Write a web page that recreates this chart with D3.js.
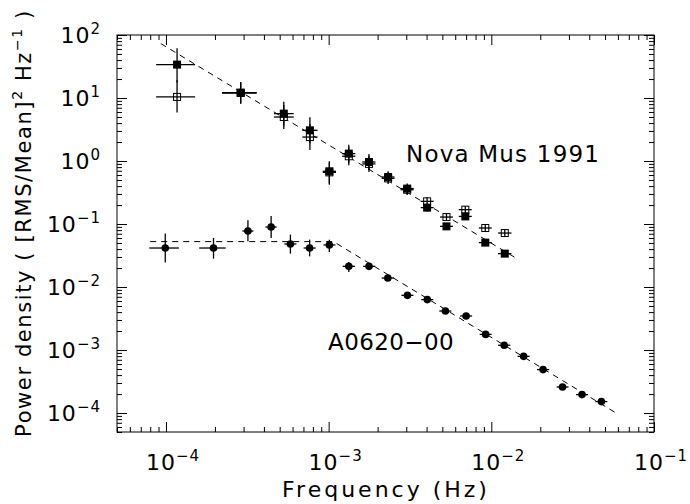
<!DOCTYPE html>
<html>
<head>
<meta charset="utf-8">
<script src="https://cdn.jsdelivr.net/npm/d3@7"></script>
<style>
body { margin: 0; background: #fff; }
text { font-family: "DejaVu Sans", sans-serif; fill: #000; }
</style>
</head>
<body>
<svg width="690" height="504"></svg>
<script>
// Nova Mus 1991 (filled + open squares share the frequency bins)
var novaFreq   = [1.17e-4, 2.88e-4, 5.30e-4, 7.67e-4, 1.01e-3, 1.33e-3, 1.77e-3, 2.32e-3, 3.04e-3, 4.03e-3, 5.30e-3, 6.92e-3, 9.18e-3, 1.21e-2];
var novaFreqLo = [8.7e-5, 2.21e-4, 4.61e-4, 6.89e-4, 0.92e-3, 1.21e-3, 1.61e-3, 2.12e-3, 2.77e-3, 3.68e-3, 4.84e-3, 6.31e-3, 8.38e-3, 1.10e-2];
var novaFreqHi = [1.51e-4, 3.61e-4, 6.10e-4, 8.54e-4, 1.11e-3, 1.46e-3, 1.94e-3, 2.54e-3, 3.33e-3, 4.42e-3, 5.81e-3, 7.58e-3, 1.006e-2, 1.33e-2];
var novaFilled   = [33.9, 12.2, 5.65, 3.07, 0.687, 1.31, 0.964, 0.557, 0.365, 0.182, 0.0918, 0.132, 0.0507, 0.0339];
var novaFilledLo = [17.7, 8.2, 3.65, 1.91, 0.44, 0.94, 0.72, 0.45, 0.30, 0.157, 0.081, 0.116, 0.045, 0.0305];
var novaFilledHi = [61.5, 17.9, 8.74, 4.94, 0.99, 1.82, 1.29, 0.69, 0.44, 0.211, 0.104, 0.150, 0.0564, 0.0377];
var novaOpen   = [10.4, 12.0, 4.99, 2.40, 0.66, 1.19, 0.90, 0.53, 0.35, 0.229, 0.129, 0.169, 0.0865, 0.0719];
var novaOpenLo = [5.9, 8.1, 3.23, 1.50, 0.42, 0.86, 0.67, 0.43, 0.29, 0.198, 0.113, 0.148, 0.0776, 0.0645];
var novaOpenHi = [19.1, 17.6, 7.72, 3.85, 0.95, 1.65, 1.21, 0.66, 0.42, 0.265, 0.147, 0.193, 0.0964, 0.0801];

// A0620-00
var aFreq   = [0.99e-4, 1.96e-4, 3.19e-4, 4.43e-4, 5.82e-4, 7.64e-4, 1.01e-3, 1.33e-3, 1.77e-3, 2.31e-3, 3.05e-3, 4.04e-3, 5.22e-3, 7.0e-3, 9.23e-3, 1.20e-2, 1.58e-2, 2.08e-2, 2.74e-2, 3.61e-2, 4.75e-2];
var aFreqLo = [7.9e-5, 1.60e-4, 2.95e-4, 4.09e-4, 5.34e-4, 7.02e-4, 0.93e-3, 1.22e-3, 1.63e-3, 2.12e-3, 2.80e-3, 3.71e-3, 4.79e-3, 6.43e-3, 8.48e-3, 1.10e-2, 1.45e-2, 1.91e-2, 2.52e-2, 3.32e-2, 4.36e-2];
var aFreqHi = [1.20e-4, 2.33e-4, 3.45e-4, 4.79e-4, 6.34e-4, 8.32e-4, 1.10e-3, 1.45e-3, 1.93e-3, 2.52e-3, 3.32e-3, 4.40e-3, 5.68e-3, 7.62e-3, 1.005e-2, 1.31e-2, 1.72e-2, 2.27e-2, 2.98e-2, 3.93e-2, 5.17e-2];
var aPow   = [0.0416, 0.0416, 0.0774, 0.0896, 0.0482, 0.0416, 0.0465, 0.0213, 0.0213, 0.0139, 0.00738, 0.00631, 0.00416, 0.00347, 0.00177, 0.00119, 0.000794, 0.000489, 0.000259, 0.000196, 0.000152];
var aPowLo = [0.0244, 0.0282, 0.0531, 0.060, 0.0339, 0.0307, 0.036, 0.0173, 0.0191, 0.0125, 0.0068, 0.00586, 0.00387, 0.00322, 0.00165, 0.00111, 0.000738, 0.000454, 0.000241, 0.000182, 0.000141];
var aPowHi = [0.0705, 0.060, 0.1146, 0.134, 0.068, 0.0565, 0.0565, 0.0249, 0.0238, 0.0155, 0.0080, 0.00679, 0.00448, 0.00373, 0.00190, 0.00128, 0.000854, 0.000526, 0.000279, 0.000211, 0.000164];

// model fits (dashed)
var novaModelFreq = [9.3e-5, 1.47e-2];
var novaModelPow  = [73, 0.0272];
var aModelFreq = [8.0e-5, 1.07e-3, 5.85e-2];
var aModelPow  = [0.0526, 0.0526, 1.0e-4];

var xTickExp = [-4, -3, -2, -1];
var yTickExp = [2, 1, 0, -1, -2, -3, -4];

var svg = d3.select("svg");
var x = d3.scaleLog().domain([5e-5, 0.1]).range([117, 654]);
var y = d3.scaleLog().domain([5e-5, 100]).range([432, 35]);

function isMajor(v) {
    var l = Math.log10(v);
    return Math.abs(l - Math.round(l)) < 1e-6;
}
var xMinor = x.ticks().filter(function(d) { return !isMajor(d); });
var yMinor = y.ticks().filter(function(d) { return !isMajor(d); });
var xMajor = xTickExp.map(function(e) { return Math.pow(10, e); });
var yMajor = yTickExp.map(function(e) { return Math.pow(10, e); });

function tickAxis(axis, vals, size, tr) {
    var g = svg.append("g").attr("transform", tr)
        .call(axis.tickValues(vals).tickSize(size).tickFormat(""));
    g.select(".domain").remove();
    g.selectAll("line").attr("stroke", "#000").attr("stroke-width", 1);
}
tickAxis(d3.axisBottom(x), xMinor, -5, "translate(0,432)");
tickAxis(d3.axisBottom(x), xMajor, -10, "translate(0,432)");
tickAxis(d3.axisTop(x), xMinor, -5, "translate(0,35)");
tickAxis(d3.axisTop(x), xMajor, -10, "translate(0,35)");
tickAxis(d3.axisLeft(y), yMinor, -5, "translate(117,0)");
tickAxis(d3.axisLeft(y), yMajor, -10, "translate(117,0)");
tickAxis(d3.axisRight(y), yMinor, -5, "translate(654,0)");
tickAxis(d3.axisRight(y), yMajor, -10, "translate(654,0)");

svg.append("rect")
    .attr("x", 117).attr("y", 35)
    .attr("width", 654 - 117).attr("height", 432 - 35)
    .attr("fill", "none").attr("stroke", "#000").attr("stroke-width", 1);

function powLabel(sel, e) {
    sel.append("tspan").text("10");
    sel.append("tspan").attr("dy", -9).attr("font-size", 15)
        .text(e < 0 ? "\u2212" + (-e) : "" + e);
}

xTickExp.forEach(function(e) {
    var t = svg.append("text")
        .attr("x", x(Math.pow(10, e)) + 7).attr("y", 470)
        .attr("text-anchor", "middle").attr("font-size", 22)
        .attr("letter-spacing", 1);
    powLabel(t, e);
});
yTickExp.forEach(function(e) {
    var t = svg.append("text")
        .attr("x", 101).attr("y", y(Math.pow(10, e)) + 8)
        .attr("text-anchor", "end").attr("font-size", 22)
        .attr("letter-spacing", 1);
    powLabel(t, e);
});

svg.append("text")
    .attr("x", 386).attr("y", 497)
    .attr("text-anchor", "middle").attr("font-size", 22)
    .attr("letter-spacing", 3)
    .text("Frequency (Hz)");

var yt = svg.append("text")
    .attr("transform", "translate(31,223) rotate(-90)")
    .attr("text-anchor", "middle").attr("font-size", 21)
    .attr("letter-spacing", 1.6);
yt.append("tspan").text("Power density ( [RMS/Mean]");
yt.append("tspan").attr("dy", -9).attr("font-size", 14).text("2");
yt.append("tspan").attr("dy", 9).text(" Hz");
yt.append("tspan").attr("dy", -9).attr("font-size", 14).text("\u22121");
yt.append("tspan").attr("dy", 9).text("  )");

// dashed models
var line = d3.line().x(function(d) { return x(d[0]); }).y(function(d) { return y(d[1]); });
svg.append("path")
    .attr("d", line(d3.zip(novaModelFreq, novaModelPow)))
    .attr("fill", "none").attr("stroke", "#000").attr("stroke-width", 1)
    .attr("stroke-dasharray", "6,5");
svg.append("path")
    .attr("d", line(d3.zip(aModelFreq, aModelPow)))
    .attr("fill", "none").attr("stroke", "#000").attr("stroke-width", 1)
    .attr("stroke-dasharray", "6,5");

function errorBars(f, fLo, fHi, p, pLo, pHi) {
    var g = svg.append("g").attr("stroke", "#000").attr("stroke-width", 1.3);
    g.selectAll("line.h").data(d3.range(f.length)).enter().append("line")
        .attr("x1", function(i) { return x(fLo[i]); })
        .attr("x2", function(i) { return x(fHi[i]); })
        .attr("y1", function(i) { return y(p[i]); })
        .attr("y2", function(i) { return y(p[i]); });
    g.selectAll("line.v").data(d3.range(f.length)).enter().append("line")
        .attr("x1", function(i) { return x(f[i]); })
        .attr("x2", function(i) { return x(f[i]); })
        .attr("y1", function(i) { return y(pLo[i]); })
        .attr("y2", function(i) { return y(pHi[i]); });
}

// open squares
svg.append("g").selectAll("rect")
    .data(d3.range(novaFreq.length)).enter().append("rect")
    .attr("x", function(i) { return x(novaFreq[i]) - 3.5; })
    .attr("y", function(i) { return y(novaOpen[i]) - 3.5; })
    .attr("width", 7).attr("height", 7)
    .attr("fill", "#fff").attr("stroke", "#000").attr("stroke-width", 1);
errorBars(novaFreq, novaFreqLo, novaFreqHi, novaOpen, novaOpenLo, novaOpenHi);

errorBars(novaFreq, novaFreqLo, novaFreqHi, novaFilled, novaFilledLo, novaFilledHi);
svg.append("g").selectAll("rect")
    .data(d3.range(novaFreq.length)).enter().append("rect")
    .attr("x", function(i) { return x(novaFreq[i]) - 4; })
    .attr("y", function(i) { return y(novaFilled[i]) - 4; })
    .attr("width", 8).attr("height", 8)
    .attr("fill", "#000");

errorBars(aFreq, aFreqLo, aFreqHi, aPow, aPowLo, aPowHi);
svg.append("g").selectAll("circle")
    .data(d3.range(aFreq.length)).enter().append("circle")
    .attr("cx", function(i) { return x(aFreq[i]); })
    .attr("cy", function(i) { return y(aPow[i]); })
    .attr("r", 3.8)
    .attr("fill", "#000");

svg.append("text").attr("x", 406).attr("y", 162).attr("font-size", 23)
    .attr("letter-spacing", 1.2)
    .text("Nova Mus 1991");
svg.append("text").attr("x", 328).attr("y", 350).attr("font-size", 23)
    .attr("letter-spacing", 0.4)
    .text("A0620\u221200");
</script>
</body>
</html>
